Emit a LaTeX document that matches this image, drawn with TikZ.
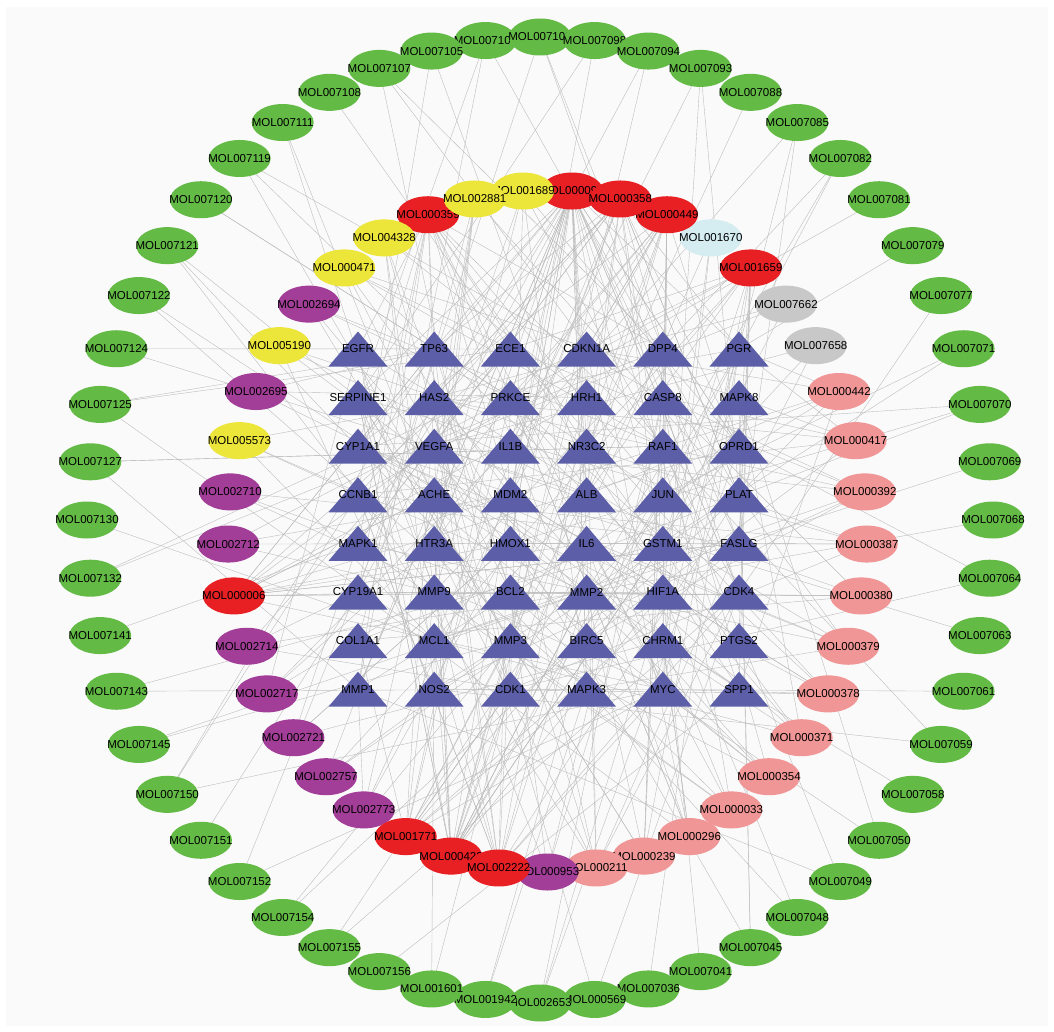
\documentclass[tikz,border=0pt]{standalone}
\usepackage{fontspec}
\setmainfont{Liberation Sans}
\usetikzlibrary{shapes.geometric}
\pgfdeclarelayer{bg}
\pgfdeclarelayer{edges}
\pgfsetlayers{bg,edges,main}
\definecolor{molgreen}{RGB}{99,187,70}
\definecolor{molred}{RGB}{232,32,36}
\definecolor{molyellow}{RGB}{237,230,58}
\definecolor{molpurple}{RGB}{162,62,152}
\definecolor{molpink}{RGB}{241,150,150}
\definecolor{molcyan}{RGB}{213,236,241}
\definecolor{molgray}{RGB}{200,200,200}
\definecolor{tarblue}{RGB}{92,95,168}
\definecolor{panel}{RGB}{250,250,250}

\begin{document}
\begin{tikzpicture}[x=1pt, y=-1pt,
  mol/.style={ellipse, minimum width=62pt, minimum height=37pt, inner sep=0pt, font=\fontsize{11.5}{11.5}\selectfont},
  target/.style={inner sep=0pt, font=\fontsize{11.5}{11.5}\selectfont},
  tri/.style={fill=tarblue},
  link/.style={draw=black!26, line width=0.4pt}]
  \useasboundingbox (0,0) rectangle (1054,1032);
  \begin{pgfonlayer}{bg}
    \fill[panel] (6,7) rectangle (1048,1026);
  \end{pgfonlayer}
  \pgfmathsetseed{2718}

  \foreach \g [count=\k from 0] in {EGFR,TP63,ECE1,CDKN1A,DPP4,PGR,
      SERPINE1,HAS2,PRKCE,HRH1,CASP8,MAPK8,
      CYP1A1,VEGFA,IL1B,NR3C2,RAF1,OPRD1,
      CCNB1,ACHE,MDM2,ALB,JUN,PLAT,
      MAPK1,HTR3A,HMOX1,IL6,GSTM1,FASLG,
      CYP19A1,MMP9,BCL2,MMP2,HIF1A,CDK4,
      COL1A1,MCL1,MMP3,BIRC5,CHRM1,PTGS2,
      MMP1,NOS2,CDK1,MAPK3,MYC,SPP1} {
    \pgfmathsetmacro\tx{358+76.2*mod(\k,6)}
    \pgfmathsetmacro\ty{349+48.6*floor(\k/6)}
    \fill[tri] (\tx,\ty) ++(-29.5,17.5) -- ++(59,0) -- ++(-29.5,-35) -- cycle;
    \node[target] (t\k) at (\tx,\ty) {\g};
  }

  \foreach \idx/\m/\col/\nd in {2/000239/molpink/7, 1/000211/molpink/8, 0/000953/molpurple/4,
      3/000296/molpink/7, 4/000033/molpink/6, 5/000354/molpink/6, 6/000371/molpink/6,
      7/000378/molpink/7, 8/000379/molpink/6, 9/000380/molpink/6, 10/000387/molpink/6,
      11/000392/molpink/7, 12/000417/molpink/6, 13/000442/molpink/7, 14/007658/molgray/3,
      15/007662/molgray/3, 16/001659/molred/14, 17/001670/molcyan/3, 18/000449/molred/16,
      20/000098/molred/34, 19/000358/molred/18, 21/001689/molyellow/6, 23/000359/molred/16,
      22/002881/molyellow/6, 24/004328/molyellow/5, 25/000471/molyellow/5, 26/002694/molpurple/4,
      27/005190/molyellow/4, 28/002695/molpurple/3, 29/005573/molyellow/4, 30/002710/molpurple/3,
      31/002712/molpurple/4, 32/000006/molred/16, 33/002714/molpurple/4, 34/002717/molpurple/4,
      35/002721/molpurple/4, 36/002757/molpurple/4, 37/002773/molpurple/4, 38/001771/molred/14,
      39/000422/molred/22, 40/002222/molred/14} {
    \pgfmathsetmacro\ang{-90+\idx*8.780488}
    \node[mol, fill=\col] (m\idx) at ({547.5+319.5*cos(\ang)},{531-341*sin(\ang)}) {\makebox[0pt]{MOL\m}};
    \begin{pgfonlayer}{edges}
      \foreach \j in {1,...,\nd} {\pgfmathrandominteger{\tg}{0}{47}\draw[link] (m\idx.center) -- (t\tg.center);}
    \end{pgfonlayer}
  }

  \foreach \m [count=\k from -1] in {007101,007100,007098,007094,007093,007088,007085,007082,007081,
      007079,007077,007071,007070,007069,007068,007064,007063,007061,007059,007058,007050,
      007049,007048,007045,007041,007036,000569,002653,001942,001601,007156,007155,007154,
      007152,007151,007150,007145,007143,007141,007132,007130,007127,007125,007124,007122,
      007121,007120,007119,007111,007108,007107,007105} {
    \pgfmathsetmacro\ang{90-\k*6.923077}
    \node[mol, fill=molgreen] (g\k) at ({540+453*cos(\ang)},{520-483*sin(\ang)}) {\makebox[0pt]{MOL\m}};
    \pgfmathrandominteger{\nl}{1}{3}
    \begin{pgfonlayer}{edges}
      \foreach \j in {1,...,\nl} {\pgfmathrandominteger{\tg}{0}{47}\draw[link] (g\k.center) -- (t\tg.center);}
    \end{pgfonlayer}
  }
\end{tikzpicture}
\end{document}
